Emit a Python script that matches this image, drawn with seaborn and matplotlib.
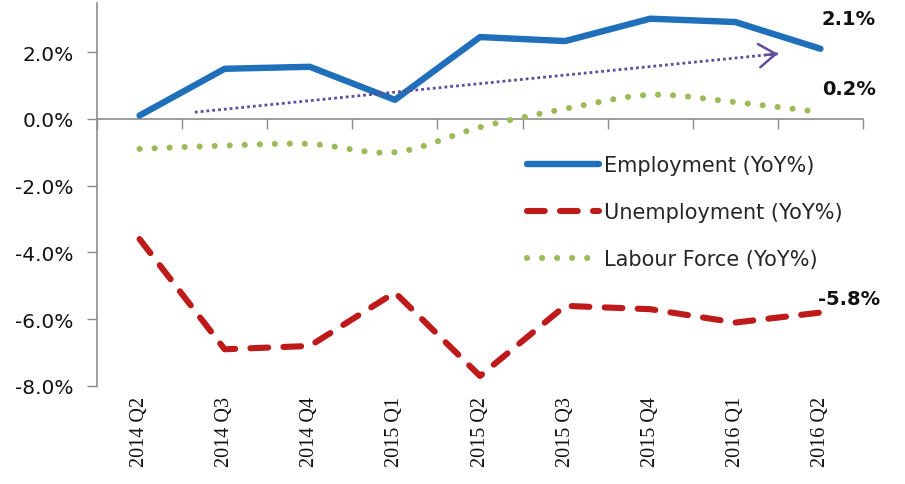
import numpy as np
import pandas as pd
import matplotlib
matplotlib.use("Agg")
import matplotlib.pyplot as plt
from matplotlib.path import Path
from matplotlib.patches import PathPatch
from matplotlib.lines import Line2D
from matplotlib.ticker import PercentFormatter, FixedLocator
import seaborn as sns

# Quarterly year-on-year changes (%)
quarters = ["2014 Q2", "2014 Q3", "2014 Q4", "2015 Q1", "2015 Q2",
            "2015 Q3", "2015 Q4", "2016 Q1", "2016 Q2"]
employment = [0.1, 1.5, 1.56, 0.57, 2.45, 2.33, 3.0, 2.9, 2.1]
unemployment = [-3.6, -6.9, -6.8, -5.2, -7.7, -5.6, -5.7, -6.1, -5.8]
labour_force = [-0.9, -0.8, -0.75, -1.0, -0.25, 0.3, 0.72, 0.5, 0.2]

series_names = ["Employment (YoY%)", "Unemployment (YoY%)", "Labour Force (YoY%)"]
y_ticks = [2.0, 0.0, -2.0, -4.0, -6.0, -8.0]

# trend arrow drawn over the employment series (start -> end, in data units)
trend_start = (0.65, 0.2)
trend_end = (7.5, 1.95)

EMP_C = "#1F6FBA"
UNEMP_C = "#BE1A1A"
LF_C = "#9BBB59"
ARROW_C = "#5E4C9E"
AXIS_C = "#8C8C8C"

sns.set_theme(style="white")
plt.rcParams["font.family"] = ["DejaVu Sans"]
plt.rcParams["axes.unicode_minus"] = False

df = pd.DataFrame({
    "pos": np.arange(len(quarters)),
    "quarter": quarters,
    "emp": employment,
    "unemp": unemployment,
    "lf": labour_force,
})

fig = plt.figure(figsize=(9.05, 4.85), dpi=100)
ax = fig.add_axes([97 / 905, 1 - 387 / 485, (863 - 97) / 905, (387 - 4) / 485])

sns.lineplot(data=df, x="pos", y="emp", ax=ax, color=EMP_C, lw=4.6,
             solid_capstyle="round", solid_joinstyle="round", legend=False)
sns.lineplot(data=df, x="pos", y="unemp", ax=ax, color=UNEMP_C, lw=4.4,
             dashes=False, legend=False)
ax.lines[-1].set_linestyle((0, (2.9, 2.5)))
ax.lines[-1].set_dash_capstyle("round")
ax.lines[-1].set_solid_joinstyle("round")

# labour force as a smoothed (Catmull-Rom / Bezier) dotted curve
pts = np.column_stack([df["pos"].to_numpy(float), df["lf"].to_numpy(float)])
ext = np.vstack([pts[0], pts, pts[-1]])
verts = [tuple(pts[0])]
codes = [Path.MOVETO]
for i in range(len(pts) - 1):
    p0, p1, p2, p3 = ext[i], ext[i + 1], ext[i + 2], ext[i + 3]
    c1 = p1 + (p2 - p0) / 6.0
    c2 = p2 - (p3 - p1) / 6.0
    verts += [tuple(c1), tuple(c2), tuple(p2)]
    codes += [Path.CURVE4, Path.CURVE4, Path.CURVE4]
lf_patch = PathPatch(Path(verts, codes), fill=False, edgecolor=LF_C, lw=4.4,
                     linestyle=(0, (0.01, 2.45)), capstyle="round")
ax.add_patch(lf_patch)

# dotted trend arrow
ax.plot([trend_start[0], trend_end[0]], [trend_start[1], trend_end[1]],
        color=ARROW_C, lw=2.0, ls=(0, (1, 1.1)))
dx = trend_end[0] - trend_start[0]
dy = trend_end[1] - trend_start[1]
ax.annotate("", xy=trend_end,
            xytext=(trend_end[0] - dx * 0.02, trend_end[1] - dy * 0.02),
            arrowprops=dict(arrowstyle="->,head_length=0.6,head_width=0.42",
                        color=ARROW_C, lw=1.8, mutation_scale=20,
                        shrinkA=0, shrinkB=0))

ax.set_xlim(-0.5, len(quarters) - 0.5)
ax.set_ylim(-8.0, 3.47)

# y axis
ax.yaxis.set_major_locator(FixedLocator(y_ticks))
ax.yaxis.set_major_formatter(PercentFormatter(decimals=1))
ax.tick_params(axis="y", which="major", direction="out", length=7, width=1,
               color=AXIS_C, labelsize=14.5, labelcolor="#111111", pad=10,
               left=True)
for s in ["top", "right", "bottom"]:
    ax.spines[s].set_visible(False)
ax.spines["left"].set_color(AXIS_C)
ax.spines["left"].set_linewidth(1.2)

# category labels along the bottom
ax.set_xticks(df["pos"])
ax.set_xticklabels(quarters, rotation=90, fontsize=14.5,
                   family="Liberation Serif", color="#111111")
ax.tick_params(axis="x", which="major", length=0, pad=7)
ax.set_xlabel("")
ax.set_ylabel("")

# zero line with category boundary ticks
y0_frac = (0 - ax.get_ylim()[0]) / (ax.get_ylim()[1] - ax.get_ylim()[0])
zero_axis = ax.secondary_xaxis(y0_frac)
zero_axis.set_xticks(np.arange(len(quarters) + 1) - 0.5)
zero_axis.spines["top"].set_visible(False)
zero_axis.spines["bottom"].set_visible(True)
zero_axis.spines["bottom"].set_color(AXIS_C)
zero_axis.spines["bottom"].set_linewidth(1.2)
zero_axis.xaxis.set_ticks_position("bottom")
zero_axis.tick_params(axis="x", direction="out", length=7, width=1,
                      color=AXIS_C, labelbottom=False, labeltop=False)

# end-of-series value labels
last = len(quarters) - 1
for vals, dy_pt in [(employment, 22), (labour_force, 17), (unemployment, 10)]:
    ax.annotate(f"{vals[last]:.1f}%", xy=(last, vals[last]),
                xytext=(1 if vals[last] >= 0 else -2, dy_pt),
                textcoords="offset points", ha="left", va="center",
                fontsize=14, fontweight="bold", color="#111111")

# legend
handles = [
    Line2D([], [], color=EMP_C, lw=4.6, solid_capstyle="round"),
    Line2D([], [], color=UNEMP_C, lw=4.4, ls=(0, (2.9, 2.5)),
           dash_capstyle="round"),
    Line2D([], [], color=LF_C, lw=4.4, ls=(0, (0.01, 2.45)),
           dash_capstyle="round"),
]
ax.legend(handles, series_names, loc="upper left",
          bbox_to_anchor=(0.55, 0.625), frameon=False, fontsize=15,
          handlelength=3.45, handletextpad=0.25, labelspacing=1.3,
          borderaxespad=0)

fig.savefig("out.png", dpi=100, facecolor="white")
